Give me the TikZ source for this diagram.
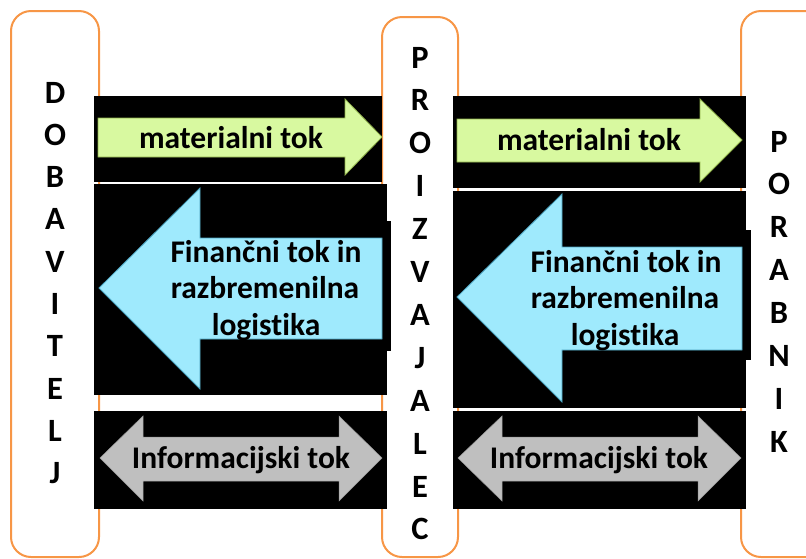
\documentclass[tikz,border=0pt]{standalone}
\usepackage{fontspec}
\setmainfont{Carlito}[Ligatures=NoCommon]
\definecolor{orng}{HTML}{F79646}
\definecolor{grnfill}{HTML}{D8F9A0}
\definecolor{grnline}{HTML}{8FB04A}
\definecolor{bluefill}{HTML}{9FEAFD}
\definecolor{blueline}{HTML}{4BA3C0}
\definecolor{grayfill}{HTML}{BFBFBF}
\begin{document}
\begin{tikzpicture}[x=1pt,y=-1pt,
  obox/.style={draw=orng,line width=2pt,rounded corners=20pt,fill=white,inner sep=0pt},
  blk/.style={fill=black},
  grnarrow/.style={fill=grnfill,draw=grnline,line width=0.8pt},
  bluarrow/.style={fill=bluefill,draw=blueline,line width=0.8pt},
  gryarrow/.style={fill=grayfill,draw=grayfill!80!black,line width=0.5pt},
  lbl/.style={font=\fontsize{31.5}{36}\selectfont\bfseries,anchor=base,inner sep=0pt},
  vlet/.style={font=\fontsize{32.5}{36}\selectfont\bfseries,anchor=base,inner sep=0pt}]
\useasboundingbox (0,0) rectangle (806,558);
\clip (0,0) rectangle (806,558);
% orange party boxes
\node[obox,minimum width=88pt,minimum height=546pt] (dob) at (55,284) {};
\node[obox,minimum width=76pt,minimum height=540pt] (pro) at (420,287) {};
\node[obox,minimum width=90pt,minimum height=546pt] (por) at (786,284) {};
% black backgrounds
\fill[blk] (94,96) rectangle (382,182);
\fill[blk] (94,184) rectangle (387,395);
\fill[blk] (387,221) rectangle (391,351);
\fill[blk] (94,411) rectangle (387,509);
\fill[blk] (453,96) rectangle (746,188);
\fill[blk] (453,191) rectangle (746,408);
\fill[blk] (746,230) rectangle (751,360);
\fill[blk] (453,411) rectangle (746,509);
% green arrows
\draw[grnarrow] (98,118) -- (345,118) -- (345,99) -- (382,137) -- (345,175) -- (345,157) -- (98,157) -- cycle;
\draw[grnarrow] (457,119) -- (700,119) -- (700,99) -- (742,140) -- (700,182) -- (700,162) -- (457,162) -- cycle;
% blue arrows
\draw[bluarrow] (99,288) -- (200,188) -- (200,238) -- (382,238) -- (382,339) -- (200,339) -- (200,389) -- cycle;
\draw[bluarrow] (457,297) -- (562,194) -- (562,247) -- (742,247) -- (742,350) -- (562,350) -- (562,402) -- cycle;
% gray double arrows
\draw[gryarrow] (100,458) -- (143,416) -- (143,437) -- (339,437) -- (339,416) -- (382,458) -- (339,501) -- (339,481) -- (143,481) -- (143,501) -- cycle;
\draw[gryarrow] (458,458) -- (502,416) -- (502,437) -- (698,437) -- (698,416) -- (741,458) -- (698,501) -- (698,481) -- (502,481) -- (502,501) -- cycle;
% labels
\node[lbl] (m1) at (231,148) {materialni tok};
\node[lbl] (m2) at (589,150) {materialni tok};
\node[lbl] (f1a) at (266,262) {Finančni tok in};
\node[lbl] (f1b) at (265,298) {razbremenilna};
\node[lbl] (f1c) at (266,335) {logistika};
\node[lbl] (f2a) at (626,272) {Finančni tok in};
\node[lbl] (f2b) at (625,308) {razbremenilna};
\node[lbl] (f2c) at (625,345) {logistika};
\node[lbl] (i1) at (241,468) {Informacijski tok};
\node[lbl] (i2) at (599,468) {Informacijski tok};
% vertical words
\foreach \c [count=\i from 0] in {D,O,B,A,V,I,T,E,L,J}
  \node[vlet] (d\i) at (55,103+42.3*\i) {\c};
\foreach \c [count=\i from 0] in {P,R,O,I,Z,V,A,J,A,L,E,C}
  \node[vlet] (p\i) at (420,68+42.9*\i) {\c};
\foreach \c [count=\i from 0] in {P,O,R,A,B,N,I,K}
  \node[vlet] (k\i) at (779,152+42.9*\i) {\c};
\end{tikzpicture}
\end{document}
